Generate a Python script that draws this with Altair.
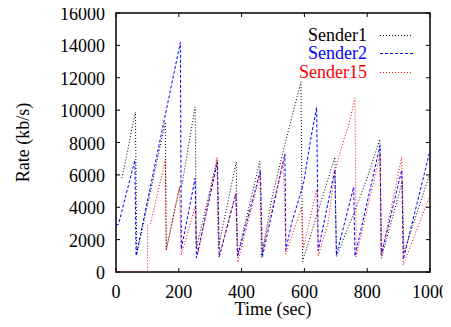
import altair as alt
import pandas as pd

# ---- data ----
s1_t = [19, 35, 50, 62, 66, 110, 157, 160, 200, 211, 252, 256, 322, 326, 383, 387, 458, 463, 497, 538, 589, 594, 697, 702, 761, 800, 840, 845, 912, 917, 1000]
s1_v = [5800, 7300, 8800, 9870, 1100, 5000, 9250, 1350, 5000, 5500, 10200, 1500, 6900, 1500, 6800, 1000, 6850, 900, 4600, 7900, 11750, 650, 7100, 940, 3800, 5800, 8200, 850, 5600, 1200, 6100]

s2_t = [0, 8, 60, 64, 205, 208, 252, 256, 323, 329, 382, 387, 460, 466, 538, 541, 559, 597, 623, 639, 644, 697, 702, 757, 761, 841, 845, 910, 915, 1000]
s2_v = [2900, 2950, 6900, 1000, 14200, 1400, 5800, 860, 6790, 940, 4840, 940, 6280, 920, 7300, 1350, 3000, 5460, 8530, 10170, 1310, 6320, 1050, 5250, 985, 7820, 1050, 6300, 780, 7500]

s15_t = [0, 100, 101, 110, 157, 160, 202, 208, 252, 255, 262, 322, 328, 381, 388, 459, 466, 533, 541, 591, 597, 639, 644, 675, 697, 715, 740, 761, 765, 841, 845, 910, 915, 1000]
s15_v = [0, 0, 2900, 3000, 6900, 1350, 5300, 1050, 4020, 2000, 1200, 7100, 940, 4840, 600, 6070, 1300, 6890, 1100, 4020, 1460, 5100, 985, 3000, 6200, 7500, 9000, 10750, 940, 7300, 1050, 7100, 430, 4740]

series_names = ["Sender1", "Sender2", "Sender15"]
series_colors = ["#000000", "#0000ff", "#ff0000"]
series_dash = [[1, 2], [3, 2], [1, 2]]

x_ticks = [0, 200, 400, 600, 800, 1000]
y_ticks = [0, 2000, 4000, 6000, 8000, 10000, 12000, 14000, 16000]
x_title = "Time (sec)"
y_title = "Rate (kb/s)"

rows = []
for name, ts, vs in [("Sender1", s1_t, s1_v), ("Sender2", s2_t, s2_v), ("Sender15", s15_t, s15_v)]:
    for i, (t, v) in enumerate(zip(ts, vs)):
        rows.append({"series": name, "t": t, "v": v, "i": i})
df = pd.DataFrame(rows)

W, H = 314, 259
FONT = "Liberation Serif"
FS = 18
FW = 400

xscale = alt.Scale(domain=[0, 1000], nice=False, zero=False)
yscale = alt.Scale(domain=[0, 16000], nice=False)

lines = alt.Chart(df).mark_line(strokeWidth=1, clip=True).encode(
    x=alt.X("t:Q", scale=xscale, axis=None),
    y=alt.Y("v:Q", scale=yscale, axis=None),
    color=alt.Color("series:N", scale=alt.Scale(domain=series_names, range=series_colors), legend=None),
    strokeDash=alt.StrokeDash("series:N", scale=alt.Scale(domain=series_names, range=series_dash), legend=None),
    detail="series:N",
    order="i:Q",
)

xt = pd.DataFrame({"t": x_ticks, "lab": [str(v) for v in x_ticks]})
yt = pd.DataFrame({"v": y_ticks, "lab": [str(v) for v in y_ticks]})
tick_bottom = alt.Chart(xt).mark_rule(color="black", strokeWidth=1).encode(
    x=alt.X("t:Q", scale=xscale, axis=None), y=alt.value(H), y2=alt.value(H - 4))
tick_top = alt.Chart(xt).mark_rule(color="black", strokeWidth=1).encode(
    x=alt.X("t:Q", scale=xscale, axis=None), y=alt.value(0), y2=alt.value(4))
tick_left = alt.Chart(yt).mark_rule(color="black", strokeWidth=1).encode(
    y=alt.Y("v:Q", scale=yscale, axis=None), x=alt.value(0), x2=alt.value(4))
tick_right = alt.Chart(yt).mark_rule(color="black", strokeWidth=1).encode(
    y=alt.Y("v:Q", scale=yscale, axis=None), x=alt.value(W), x2=alt.value(W - 4))

xlabels = alt.Chart(xt).mark_text(
    align="center", baseline="alphabetic", font=FONT, fontSize=FS, fontWeight=FW, color="black").encode(
    x=alt.X("t:Q", scale=xscale, axis=None), y=alt.value(H + 26), text="lab:N")
ylabels = alt.Chart(yt).mark_text(
    align="right", baseline="alphabetic", font=FONT, fontSize=FS, fontWeight=FW, color="black", dy=7).encode(
    y=alt.Y("v:Q", scale=yscale, axis=None), x=alt.value(-11), text="lab:N")

one = pd.DataFrame({"a": [0]})
xtitle = alt.Chart(one).mark_text(
    align="center", baseline="alphabetic", font=FONT, fontSize=FS, fontWeight=FW, color="black").encode(
    x=alt.value(W / 2), y=alt.value(H + 43), text=alt.value(x_title))
ytitle = alt.Chart(one).mark_text(
    align="center", baseline="middle", font=FONT, fontSize=FS, fontWeight=FW, color="black", angle=270).encode(
    x=alt.value(-92), y=alt.value(H / 2), text=alt.value(y_title))

legend_layers = []
leg_y = [22.5, 40.5, 59.5]
for name, col, dash, yy in zip(series_names, series_colors, series_dash, leg_y):
    legend_layers.append(alt.Chart(one).mark_text(
        align="right", baseline="middle", font=FONT, fontSize=FS, fontWeight=FW, color=col).encode(
        x=alt.value(251), y=alt.value(yy), text=alt.value(name)))
    legend_layers.append(alt.Chart(one).mark_rule(color=col, strokeWidth=1, strokeDash=dash).encode(
        x=alt.value(264), x2=alt.value(297), y=alt.value(yy)))

chart = alt.layer(lines, tick_bottom, tick_top, tick_left, tick_right,
                  xlabels, ylabels, xtitle, ytitle, *legend_layers).properties(
    width=W, height=H,
    autosize=alt.AutoSizeParams(type="none"),
    padding={"left": 108, "top": 5, "right": 13, "bottom": 47},
).configure_view(stroke="black", strokeWidth=1.5)

chart.save("out.html", embed_options={"renderer": "svg", "actions": False})
